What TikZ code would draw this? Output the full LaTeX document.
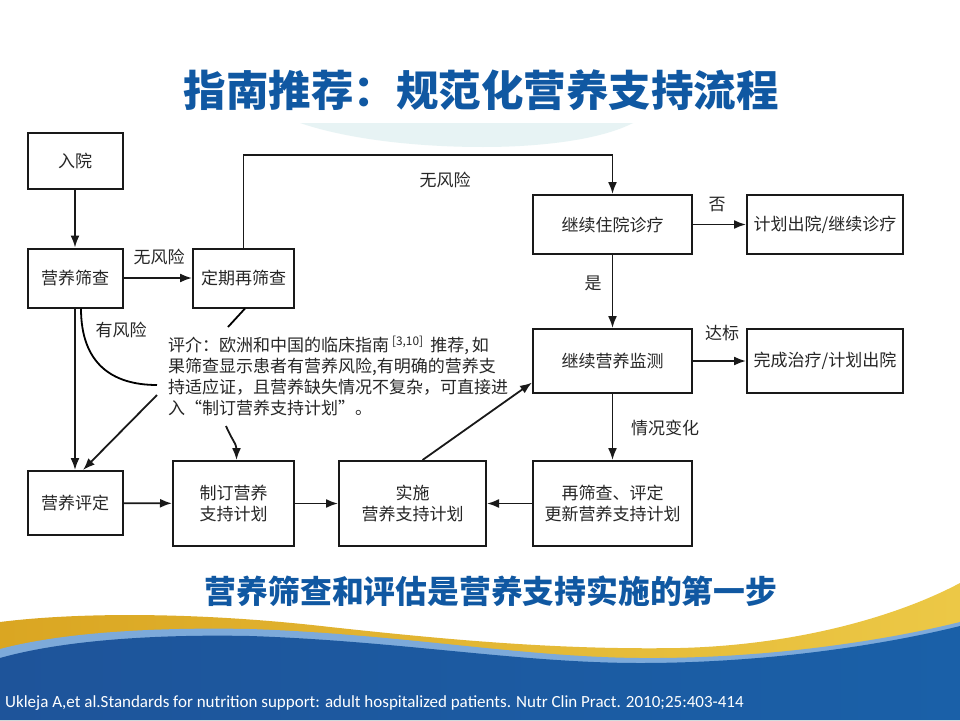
\documentclass[tikz,border=0pt]{standalone}
\usepackage{fontspec}
\setmainfont{Noto Sans CJK SC}
\newfontfamily\reffont{Carlito}
\usetikzlibrary{arrows.meta}
\definecolor{titleblue}{RGB}{16,88,162}
\definecolor{wmark}{RGB}{231,243,244}
\definecolor{goldA}{RGB}{218,166,34}
\definecolor{goldB}{RGB}{252,238,112}
\definecolor{goldC}{RGB}{236,200,70}
\definecolor{blueA}{RGB}{30,84,154}
\definecolor{blueB}{RGB}{40,158,218}
\definecolor{blueC}{RGB}{26,96,168}
\definecolor{blueL}{RGB}{125,170,218}

\begin{document}
\begin{tikzpicture}[x=1pt,y=-1pt,
  box/.style={draw=black!90,line width=2pt,align=center,inner sep=0pt,text=black!85,
    font=\fontsize{17}{21}\selectfont},
  lbl/.style={text=black!85,font=\fontsize{17}{20}\selectfont},
  arr/.style={line width=1.8pt,draw=black!90,-{Latex[length=12pt,width=9pt]}}]
\useasboundingbox (0,0) rectangle (960,720);
\fill[white] (0,0) rectangle (960,720);
% background waves
\fill[wmark] (300,123) -- (633,123) .. controls (600,140) and (540,147) .. (483,147)
  .. controls (420,147) and (350,140) .. (300,123) -- cycle;
\shade[left color=goldA,middle color=goldB,right color=goldC]
  (0,622) .. controls (80,612) and (200,612) .. (330,627)
  .. controls (450,640) and (560,650) .. (680,648)
  .. controls (800,645) and (900,615) .. (960,583) -- (960,720) -- (0,720) -- cycle;
\fill[blueL] (0,649) .. controls (60,633) and (150,627) .. (250,629)
  .. controls (400,634) and (520,657) .. (640,658)
  .. controls (780,659) and (900,637) .. (960,622) -- (960,720) -- (0,720) -- cycle;
\shade[left color=blueA,middle color=blueB,right color=blueC]
  (0,658) .. controls (60,641) and (150,634) .. (250,636)
  .. controls (400,641) and (520,663) .. (640,663)
  .. controls (780,663) and (900,641) .. (960,626) -- (960,720) -- (0,720) -- cycle;

\node[text=titleblue,font={\fontsize{42.5}{44}\selectfont\bfseries}] (title) at (481,90) {指南推荐：规范化营养支持流程};

% boxes
\node[box,minimum width=95pt,minimum height=56pt] (ruyuan) at (75,161) {入院};
\node[box,minimum width=95pt,minimum height=59pt] (shaicha) at (75,278) {营养筛查};
\node[box,minimum width=101pt,minimum height=59pt] (dingqi) at (243.5,278) {定期再筛查};
\node[box,minimum width=95pt,minimum height=64pt] (pingding) at (75,503) {营养评定};
\node[box,minimum width=121pt,minimum height=85pt] (zhiding) at (233.5,503.5) {制订营养\\支持计划};
\node[box,minimum width=147pt,minimum height=85pt] (shishi) at (412.5,503.5) {实施\\营养支持计划};
\node[box,minimum width=159pt,minimum height=59pt] (zhuyuan) at (612.5,224.5) {继续住院诊疗};
\node[box,minimum width=156pt,minimum height=59pt] (chuyuan) at (825,224.5) {计划出院/继续诊疗};
\node[box,minimum width=159pt,minimum height=64pt] (jiance) at (612.5,361) {继续营养监测};
\node[box,minimum width=156pt,minimum height=64pt] (wancheng) at (825,361) {完成治疗/计划出院};
\node[box,minimum width=159pt,minimum height=85pt] (zaishai) at (612.5,503.5) {再筛查、评定\\更新营养支持计划};

\node[anchor=north west,align=left,inner sep=0pt,text=black!85,font=\fontsize{17}{20.7}\selectfont] (note) at (168,336)
  {评介：欧洲和中国的临床指南\,\textsuperscript{[3,10]}\, 推荐,\,如\\
   果筛查显示患者有营养风险,有明确的营养支\\
   持适应证，且营养缺失情况不复杂，可直接进\\
   入“制订营养支持计划”。};

\coordinate (top) at (612.5,155);
\coordinate (c1) at (157,385);
\coordinate (c2) at (157,395);
\coordinate (c3) at (228,327);
\coordinate (c4) at (226,426);

% connectors
\draw[arr] (ruyuan) -- (shaicha);
\draw[arr] (shaicha) -- (dingqi);
\draw[arr] (shaicha) -- (pingding);
\draw[arr] (dingqi.north) |- (top) -- (zhuyuan.north);
\draw[arr] (zhuyuan) -- (chuyuan);
\draw[arr] (zhuyuan) -- (jiance);
\draw[arr] (jiance) -- (wancheng);
\draw[arr] (jiance) -- (zaishai);
\draw[arr] (zaishai) -- (shishi);
\draw[arr] (pingding) -- (zhiding);
\draw[arr] (zhiding) -- (shishi);
\draw[arr] (shishi.77) -- (jiance.195);
\draw[line width=1.8pt] ([xshift=6pt]shaicha.south) .. controls +(0,55) and +(-45,0) .. (c1);
\draw[arr] (c2) -- ([xshift=8pt]pingding.north);
\draw[line width=1.8pt] ([xshift=1.5pt]dingqi.south) -- (c3);
\draw[arr] (c4) .. controls +(6,14) and +(0,-16) .. ([xshift=3pt]zhiding.north);

% labels
\node[lbl] (l1) at (159,257) {无风险};
\node[lbl] (l2) at (445,180) {无风险};
\node[lbl] (l3) at (121,330) {有风险};
\node[lbl] (l4) at (717,205) {否};
\node[lbl] (l5) at (593,283) {是};
\node[lbl] (l6) at (722,333) {达标};
\node[lbl] (l7) at (665,428) {情况变化};

\node[text=titleblue,font={\fontsize{31.8}{34}\selectfont\bfseries}] (sub) at (491,591) {营养筛查和评估是营养支持实施的第一步};
\node[anchor=west,text=white,inner sep=0pt,font={\reffont\fontsize{17}{20}\selectfont}] (ref) at (5,703)
  {Ukleja A,et al.Standards for nutrition support: adult hospitalized patients. Nutr Clin Pract. 2010;25:403-414};
\end{tikzpicture}
\end{document}
